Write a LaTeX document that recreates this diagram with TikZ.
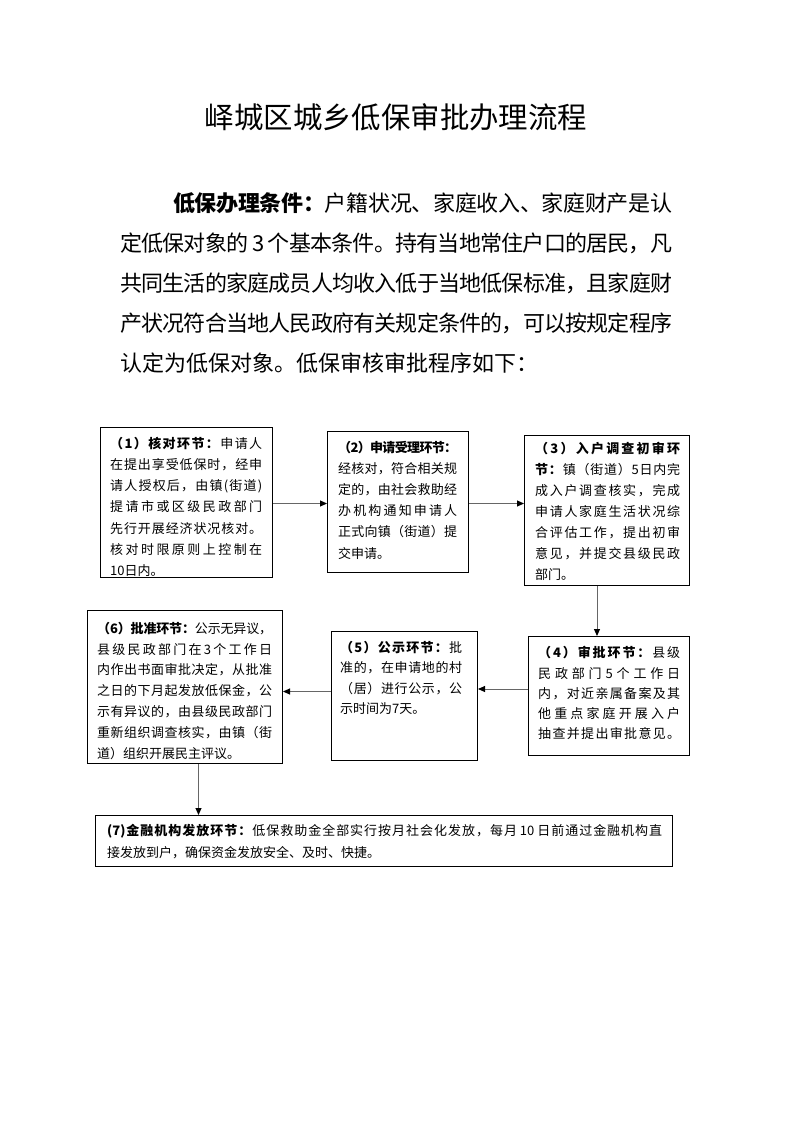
\documentclass[tikz,border=0pt]{standalone}
\usepackage{fontspec}
\setmainfont{Noto Sans CJK SC}
\usetikzlibrary{arrows.meta,calc}
% inter-character stretch for CJK justification
\XeTeXinterchartokenstate=1
\newXeTeXintercharclass\cjkc
\newcount\cjkcnt
\newcommand\setcjkrange[2]{\cjkcnt=#1\relax
  \loop\XeTeXcharclass\cjkcnt=\cjkc\relax
  \ifnum\cjkcnt<#2\relax\advance\cjkcnt by 1\relax\repeat}
\setcjkrange{"3000}{"303F}
\setcjkrange{"4E00}{"9FFF}
\setcjkrange{"FF00}{"FFEF}
\newcommand\cjkglue{\hskip0pt plus1fil minus1pt\relax}
\XeTeXinterchartoks\cjkc\cjkc={\cjkglue}
\XeTeXinterchartoks 0 \cjkc={\cjkglue}
\XeTeXinterchartoks\cjkc 0={\cjkglue}
\newcommand\J[1]{\hbox to\hsize{#1}}
\newcommand\N[1]{\hbox{#1}}
\newcommand\B[1]{{\bfseries #1}\cjkglue}
\newcommand\btext[3]{\vtop{\hsize=#1pt\fontsize{13}{#2}\selectfont #3}}
\begin{document}
\begin{tikzpicture}[x=1pt,y=-1pt,
  box/.style={draw=black,line width=1pt,inner sep=0pt,anchor=north west},
  txt/.style={inner sep=0pt,anchor=base west},
  arr/.style={draw=black!60,line width=1pt,-{Triangle[length=7pt,width=6pt,color=black]}}]
\fill[white] (0,0) rectangle (793,1122);
\useasboundingbox (0,0) rectangle (793,1122);

% title
\node[inner sep=0pt,anchor=base] (title) at (396,128.5) {\fontsize{29.4}{30}\selectfont 峄城区城乡低保审批办理流程};

% paragraph
\node[txt] (para) at (120,211.4) {\vtop{\hsize=552pt\fontsize{22}{40}\selectfont
\J{\hskip53pt\B{低保办理条件：}户籍状况、家庭收入、家庭财产是认}
\J{定低保对象的 3 个基本条件。持有当地常住户口的居民，凡}
\J{共同生活的家庭成员人均收入低于当地低保标准，且家庭财}
\J{产状况符合当地人民政府有关规定条件的，可以按规定程序}
\N{认定为低保对象。低保审核审批程序如下：}}};

% boxes
\node[box,minimum width=172pt,minimum height=150pt] (b1) at (100,427) {};
\node[box,minimum width=141pt,minimum height=141pt] (b2) at (327,431) {};
\node[box,minimum width=165pt,minimum height=150pt] (b3) at (524,435) {};
\node[box,minimum width=161pt,minimum height=119pt] (b4) at (528,636) {};
\node[box,minimum width=146pt,minimum height=129pt] (b5) at (331,631) {};
\node[box,minimum width=195pt,minimum height=153pt] (b6) at (87,610) {};
\node[box,minimum width=577pt,minimum height=51pt] (b7) at (95,815) {};

% texts
\node[txt] (t1) at (110,448) {\btext{152}{21.3}{%
\J{\B{（1）核对环节：}申请人}
\J{在提出享受低保时，经申}
\J{请人授权后，由镇(街道)}
\J{提请市或区级民政部门}
\J{先行开展经济状况核对。}
\J{核对时限原则上控制在}
\N{10日内。}}};

\node[txt] (t2) at (338,452) {\btext{119}{21.2}{%
\J{\bfseries（2）申请受理环节：}
\J{经核对，符合相关规}
\J{定的，由社会救助经}
\J{办机构通知申请人}
\J{正式向镇（街道）提}
\N{交申请。}}};

\node[txt] (t3) at (535,453.3) {\btext{145}{21}{%
\J{\bfseries（3）入户调查初审环}
\J{\B{节：}镇（街道）5日内完}
\J{成入户调查核实，完成}
\J{申请人家庭生活状况综}
\J{合评估工作，提出初审}
\J{意见，并提交县级民政}
\N{部门。}}};

\node[txt] (t4) at (538,657.7) {\btext{142}{20.3}{%
\J{\B{（4）审批环节：}县级}
\J{民政部门5个工作日}
\J{内，对近亲属备案及其}
\J{他重点家庭开展入户}
\J{抽查并提出审批意见。}}};

\node[txt] (t5) at (340,652.7) {\btext{122}{20.2}{%
\J{\B{（5）公示环节：}批}
\J{准的，在申请地的村}
\J{（居）进行公示，公}
\N{示时间为7天。}}};

\node[txt] (t6) at (97,633.3) {\btext{175}{20.8}{%
\J{\B{（6）批准环节：}公示无异议，}
\J{县级民政部门在3个工作日}
\J{内作出书面审批决定，从批准}
\J{之日的下月起发放低保金，公}
\J{示有异议的，由县级民政部门}
\J{重新组织调查核实，由镇（街}
\N{道）组织开展民主评议。}}};

\node[txt] (t7) at (107,835) {\btext{555}{22.5}{%
\J{\B{(7)金融机构发放环节：}低保救助金全部实行按月社会化发放，每月 10 日前通过金融机构直}
\N{接发放到户，确保资金发放安全、及时、快捷。}}};

% connectors
\draw[arr] ([yshift=-1pt]b1.east) -- ([yshift=-1pt]b1.east -| b2.west);
\draw[arr] ([yshift=-1.5pt]b2.east) -- ([yshift=-1.5pt]b2.east -| b3.west);
\draw[arr] ([xshift=-10pt]b3.south) -- ([xshift=-10pt]b3.south |- b4.north);
\draw[arr] ([yshift=7pt]b4.west) -- ([yshift=7pt]b4.west -| b5.east);
\draw[arr] ([yshift=4.5pt]b5.west) -- ([yshift=4.5pt]b5.west -| b6.east);
\draw[arr] ([xshift=13.5pt]b6.south) -- ([xshift=13.5pt]b6.south |- b7.north);
\end{tikzpicture}
\end{document}
